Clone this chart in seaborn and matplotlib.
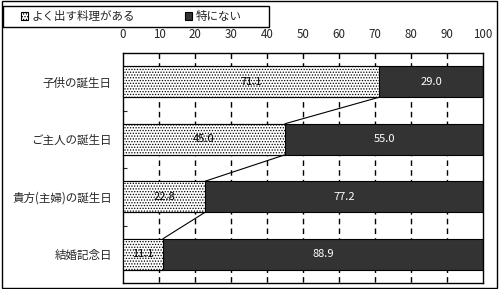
import matplotlib
matplotlib.use("Agg")
import matplotlib.pyplot as plt
import seaborn as sns
import numpy as np
import pandas as pd
from matplotlib.patches import Patch, Rectangle

categories = ["子供の誕生日", "ご主人の誕生日", "貴方(主婦)の誕生日", "結婚記念日"]
often = [71.1, 45.0, 22.8, 11.1]
none = [29.0, 55.0, 77.2, 88.9]
series_names = ["よく出す料理がある", "特にない"]
xticks = [0, 10, 20, 30, 40, 50, 60, 70, 80, 90, 100]

sns.set_style("white")
plt.rcParams['font.family'] = ['Noto Sans CJK JP', 'DejaVu Sans']
plt.rcParams['hatch.linewidth'] = 0.6

dark = "#333333"
fig = plt.figure(figsize=(5, 2.89), dpi=100)
ax = fig.add_axes([123/500, 1-283/289, 360/500, 230/289])

df = pd.DataFrame({"cat": categories, "often": often, "none": none})
df["total"] = df["often"] + df["none"]

sns.barplot(data=df, x="total", y="cat", orient="h", color=dark, width=0.54,
            edgecolor="black", linewidth=0.8, saturation=1, ax=ax, zorder=2)
sns.barplot(data=df, x="often", y="cat", orient="h", color="white", width=0.54,
            edgecolor="black", linewidth=0.8, saturation=1, hatch="......", ax=ax, zorder=3)

for x in xticks[1:-1]:
    ax.plot([x, x], [-0.5, 3.5], color="black", lw=1.0, ls=(0, (4, 3)), zorder=1)

h = 0.27
for i in range(len(categories) - 1):
    ax.plot([often[i], often[i+1]], [i + h, i + 1 - h], color="black", lw=0.8, zorder=4)

for i in range(len(categories)):
    ax.text(often[i] / 2, i, f"{often[i]:.1f}", ha="center", va="center",
            fontsize=8, color="black", zorder=5)
    ax.text(often[i] + none[i] / 2, i, f"{none[i]:.1f}", ha="center", va="center",
            fontsize=8, color="white", zorder=5)

ax.set_xlim(0, 100)
ax.set_ylim(3.5, -0.5)
ax.xaxis.tick_top()
ax.set_xticks(xticks)
ax.set_xticklabels([str(v) for v in xticks])
ax.tick_params(axis="x", length=0, pad=9, labelsize=8.3)
ax.tick_params(axis="y", length=0, pad=8, labelsize=8.3)
ax.set_yticks([0.5, 1.5, 2.5], minor=True)
ax.tick_params(axis="y", which="minor", direction="in", length=3, width=0.8, left=True)
ax.set_xlabel("")
ax.set_ylabel("")
for s in ax.spines.values():
    s.set_visible(True)
    s.set_color("black")
    s.set_linewidth(1)

# legend box
fig.patches.append(Rectangle((3/500, 1-27/289), 266/500, 21/289, transform=fig.transFigure,
                             fill=True, facecolor="white", edgecolor="black", lw=1))
handles = [Patch(facecolor="white", edgecolor="black", hatch="......", lw=0.8),
           Patch(facecolor=dark, edgecolor="black", lw=0.8)]
leg = fig.legend(handles, series_names, loc="center left", ncol=2,
                 bbox_to_anchor=(21/500, 1-16.5/289), frameon=False,
                 borderaxespad=0, borderpad=0, fontsize=8.3, handlelength=0.6,
                 handleheight=0.6, handletextpad=0.35, columnspacing=4.3)

fig.patches.append(Rectangle((0.003, 0.003), 0.991, 0.994, transform=fig.transFigure,
                             fill=False, edgecolor="black", lw=1))

fig.savefig("out.png", dpi=100)
